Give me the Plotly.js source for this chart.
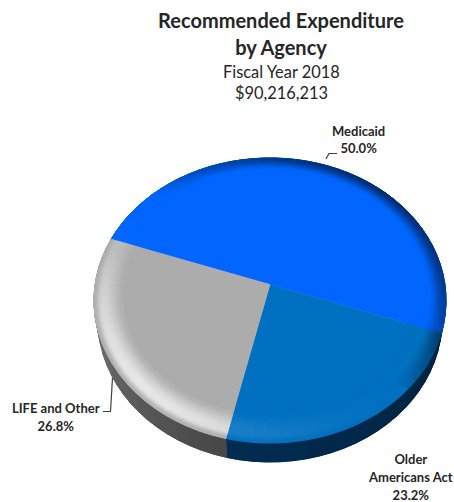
<!DOCTYPE html>
<html>
<head>
<meta charset="utf-8">
<script src="https://cdn.plot.ly/plotly-3.0.1.min.js"></script>
<style>html,body{margin:0;padding:0;background:#fff}#chart{width:454px;height:502px}</style>
</head>
<body>
<div id="chart"></div>
<script>
const labels = ["Medicaid", "Older<br>Americans Act", "LIFE and Other"];
const values = [50.0, 23.2, 26.8];
const colors = [[0,102,255], [0,112,192], [171,171,171]];
const titleLines = ["Recommended Expenditure", "by Agency"];
const subLines = ["Fiscal Year 2018", "$90,216,213"];

const START = 160.5, CX = 270, CY = 300.5, RX = 176, RY = 142.5, TILT = 0.112;
const LOW_CY = 320, LOW_SCALE_X = 172 / 176, LOW_SCALE_Y = 0.9965;
const LIGHT = 225, LIFT = [0.06, 0.14, 0.72], DARK = [0.55, 0.8, 0.4];
const BANDS = [0.80,0.82,0.84,0.86,0.87,0.88,0.89,0.90,0.91,0.92,0.93,0.94,0.95,0.96,0.97,0.98,0.99,1.0];
const WALLS = [[[0,50,130],[0,40,90]], [[0,34,64],[0,44,82]], [[70,70,70],[130,130,130]]];
const STEP = 4;

const A = RX * Math.sqrt(1 - TILT * TILT);
function project(deg, t) {
  const r = deg * Math.PI / 180, u = t * Math.cos(r), v = t * Math.sin(r), w = 1 + TILT * v;
  return [CX + A * u / w, CY - RY * (v + TILT) / w];
}
function lower(deg) {
  const p = project(deg, 1);
  return [CX + (p[0] - CX) * LOW_SCALE_X, LOW_CY + (p[1] - CY) * LOW_SCALE_Y];
}
function mix(c, target, f) { return c.map((ch, i) => ch + (target[i] - ch) * f); }
function css(c) { return "rgb(" + c.map(ch => Math.max(0, Math.min(255, Math.round(ch / 2) * 2))).join(",") + ")"; }
function smooth(a, b, x) { const t = Math.max(0, Math.min(1, (x - a) / (b - a))); return t * t * (3 - 2 * t); }

const total = values.reduce((a, b) => a + b, 0);
const spans = [];
let cursor = START;
values.forEach(v => { const sweep = v / total * 360; spans.push([cursor, cursor - sweep]); cursor -= sweep; });

function shaded(base, deg, t, i) {
  const s = Math.cos((deg - LIGHT) * Math.PI / 180);
  if (s > 0) {
    const f = smooth(0.82, 0.95, t) * (1 - 0.9 * smooth(0.96, 1.0, t));
    return mix(base, [255,255,255], LIFT[i] * Math.pow(s, 1.6) * f);
  }
  return mix(base, [0,0,0], DARK[i] * Math.pow(-s, 0.7) * smooth(0.9, 1.0, t));
}

function filled(xs, ys, c, w, extra) {
  return Object.assign({
    type: "scatter", mode: "lines", x: xs, y: ys, fill: "toself", fillcolor: c,
    line: {color: c, width: w}, hoverinfo: "skip", showlegend: false
  }, extra || {});
}
const wallTraces = [], bevelTraces = [];
spans.forEach((sp, i) => {
  const n = Math.max(1, Math.round(Math.abs(sp[0] - sp[1]) / STEP)), d = (sp[1] - sp[0]) / n;
  // one solid wall underneath, then its shaded cells
  const rim = [], low = [];
  for (let k = 0; k <= n; k++) { rim.push(project(sp[0] + k * d, 1)); low.push(lower(sp[0] + k * d)); }
  const ring = rim.concat(low.slice().reverse());
  wallTraces.push(filled(ring.map(p => p[0]), ring.map(p => p[1]), css(mix(WALLS[i][0], WALLS[i][1], 0.5)), 0.5));
  for (let k = 0; k < n; k++) {
    const a = sp[0] + k * d, b = a + d, m = (a + b) / 2;
    const q = [project(a,1), project(b,1), lower(b), lower(a), project(a,1)];
    wallTraces.push(filled(q.map(p => p[0]), q.map(p => p[1]), css(mix(WALLS[i][0], WALLS[i][1], (k + 0.5) / n)), 1));
    for (let j = 0; j < BANDS.length - 1; j++) {
      const t0 = BANDS[j], t1 = BANDS[j + 1];
      const c = [project(a,t0), project(b,t0), project(b,t1), project(a,t1), project(a,t0)];
      bevelTraces.push(filled(c.map(p => p[0]), c.map(p => p[1]), css(shaded(colors[i], m, (t0 + t1) / 2, i)), 1));
    }
  }
});
const sliceTraces = spans.map((sp, i) => {
  const pts = [project(0, 0)];
  for (let k = 0; k <= 90; k++) pts.push(project(sp[0] + (sp[1] - sp[0]) * k / 90, 1));
  pts.push(pts[0]);
  return filled(pts.map(p => p[0]), pts.map(p => p[1]), css(colors[i]), 0.5, {
    name: labels[i].replace("<br>", " "), text: values[i].toFixed(1) + "%", hoverinfo: "name+text"
  });
});

const INK = "#262626";
function textNote(text, x, y, size, bold, gap) {
  const body = bold ? "<b>" + text.split("<br>").join("</b><br><b>") + "</b>" : text;
  const wrapped = body.split("<br>").map(l => '<span style="font-size:' + size + 'px">' + l + "</span>").join("<br>");
  return {
    xref: "x", yref: "y", x: x, y: y, xanchor: "center", yanchor: "middle", showarrow: false, align: "center",
    text: wrapped,
    font: {family: "Lato, sans-serif", size: gap || size, color: INK}
  };
}
const pct = i => values[i].toFixed(1) + "%";
const annotations = [
  textNote(subLines[0], 281, 71, 16.4, false),
  textNote(subLines[1], 281, 92, 16.4, false),
  textNote(labels[0] + "<br>" + pct(0), 358, 139.5, 13, true, 13.2),
  textNote(labels[1] + "<br>" + pct(1), 410.5, 476.5, 13, true, 14),
  textNote(labels[2] + "<br>" + pct(2), 56, 417, 13, true, 14)
];
const leaderStyle = {color: "#404040", width: 1.2};
const shapes = [
  {type: "path", xref: "x", yref: "y", path: "M326,159 L329,153.5 L337,153.5", line: leaderStyle},
  {type: "path", xref: "x", yref: "y", path: "M112.5,378 L110.5,411.5 L103,411.5", line: leaderStyle}
];

const hidden = {visible: false, fixedrange: true};
Plotly.newPlot("chart",
  [...wallTraces, ...sliceTraces, ...bevelTraces],
  {
    width: 454, height: 502,
    margin: {l: 0, r: 0, t: 0, b: 0},
    paper_bgcolor: "#ffffff", plot_bgcolor: "#ffffff", showlegend: false,
    xaxis: Object.assign({range: [0, 454]}, hidden),
    yaxis: Object.assign({range: [502, 0]}, hidden),
    title: {
      text: titleLines.map(l => '<span style="font-size:20px"><b>' + l + "</b></span>").join("<br>"),
      font: {family: "Lato, sans-serif", size: 20.5, color: INK},
      x: 281 / 454, xanchor: "center", xref: "paper",
      y: 1 - 28 / 502, yanchor: "top", yref: "container"
    },
    annotations: annotations, shapes: shapes
  },
  {displayModeBar: false}
);
</script>
</body>
</html>
